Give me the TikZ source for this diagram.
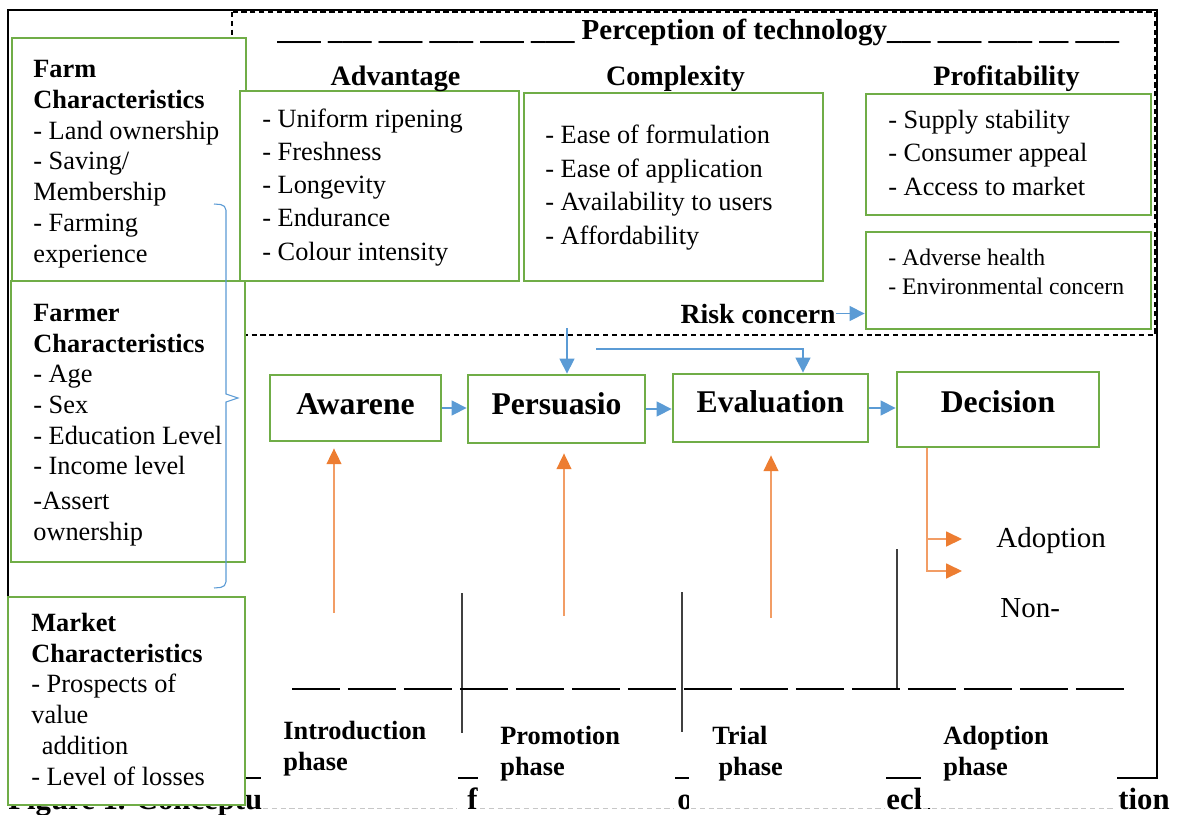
\documentclass[tikz,border=0pt]{standalone}
\usepackage{fontspec}
\setmainfont{Liberation Serif}
\usepackage{tikz}
\usetikzlibrary{arrows.meta, fit}
\definecolor{boxGreen}{HTML}{70AD47}
\definecolor{flowBlue}{HTML}{5B9BD5}
\definecolor{flowOrange}{HTML}{ED7D31}
\definecolor{phaseGray}{HTML}{404040}

\begin{document}
\begin{tikzpicture}[x=0.02cm, y=-0.02cm,
  gbox/.style={draw=boxGreen, line width=1.6pt, fill=white, inner sep=0pt},
  items/.style={anchor=base west, align=left, inner sep=0pt, font=\fontsize{15}{17.5}\selectfont},
  head/.style={anchor=base, inner sep=0pt, font=\fontsize{16}{19}\selectfont\bfseries},
  stage/.style={gbox, font=\fontsize{18}{21}\selectfont\bfseries},
  phase/.style={anchor=base west, align=left, inner sep=0pt, font=\fontsize{15}{17.6}\selectfont\bfseries},
  barrow/.style={flowBlue, line width=0.8pt, -{Triangle[length=8.5pt, width=8.5pt]}},
  oarrow/.style={draw=flowOrange!75, line width=0.8pt, -{Triangle[length=9pt, width=8.5pt, color=flowOrange]}},
  sep/.style={phaseGray, line width=1.1pt}]

  \useasboundingbox (0,0) rectangle (1177,815);
  \draw[line width=1.4pt] (8,10) rectangle (1157,778);
  \draw[densely dashed, line width=0.6pt] (232,12) rectangle (1155,335);

  % caption, mostly hidden
  \node[anchor=base west, inner sep=0pt, font=\fontsize{17.5}{20}\selectfont\bfseries] (capA) at (8,809) {Figure 1. Conceptu};
  \node[anchor=base west, inner sep=0pt, font=\fontsize{17.5}{20}\selectfont\bfseries] (capB) at (467,809) {f};
  \node[anchor=base west, inner sep=0pt, font=\fontsize{17.5}{20}\selectfont\bfseries] (capC) at (677,809) {o};
  \node[anchor=base west, inner sep=0pt, font=\fontsize{17.5}{20}\selectfont\bfseries] (capD) at (886,809) {ech};
  \node[anchor=base west, inner sep=0pt, font=\fontsize{17.5}{20}\selectfont\bfseries] (capE) at (1118,809) {tion};

  \node[gbox, fit={(12,38) (246,281)}] (farm) {};
  \node[gbox, fit={(240,91) (519,281)}] (advan) {};
  \node[gbox, fit={(524,93) (823,281)}] (compl) {};
  \node[gbox, fit={(866,94) (1151,215)}] (profit) {};
  \node[gbox, fit={(866,232) (1151,329)}] (risk) {};
  \node[gbox, fit={(11,281) (245,562)}] (farmer) {};
  \node[gbox, fit={(8,597) (245,805)}] (market) {};

  % anchored at the baseline of the last line
  \node[items] (farmtxt) at (33,262) {\textbf{Farm}\\\textbf{Characteristics}\\- Land ownership\\- Saving/\\Membership\\- Farming\\experience};
  \node[items] (farmertxt) at (33,540) {\textbf{Farmer}\\\textbf{Characteristics}\\- Age\\- Sex\\- Education Level\\- Income level\\[2pt]-Assert\\ownership};
  \node[items] (markettxt) at (31,785) {\textbf{Market}\\\textbf{Characteristics}\\- Prospects of\\value\\\hspace*{6pt}addition\\- Level of losses};

  \node[items, font=\fontsize{15}{18.9}\selectfont] (advantxt) at (262,260) {- Uniform ripening\\- Freshness\\- Longevity\\- Endurance\\- Colour intensity};
  \node[items, font=\fontsize{15}{19}\selectfont] (compltxt) at (545,244) {- Ease of formulation\\- Ease of application\\- Availability to users\\- Affordability};
  \node[items, font=\fontsize{15}{18.8}\selectfont] (profittxt) at (888,195) {- Supply stability\\- Consumer appeal\\- Access to market};
  \node[items, font=\fontsize{13.5}{16}\selectfont] (risktxt) at (888,294) {- Adverse health\\- Environmental concern};

  \node[anchor=base west, inner sep=0pt, font=\fontsize{16.5}{19}\selectfont\bfseries] (percep) at (277,39)
    {\_\_\_ \_\_\_ \_\_\_ \_\_\_ \_\_\_ \_\_\_ Perception of technology\_\_\_ \_\_\_ \_\_\_ \_\_ \_\_\_};
  \node[head] (advanhd) at (395.5,85) {Advantage};
  \node[head] (complhd) at (675.5,85) {Complexity};
  \node[head] (profithd) at (1006.5,85) {Profitability};
  \node[anchor=base east, inner sep=0pt, font=\fontsize{15.8}{19}\selectfont\bfseries] (riskc) at (836,323) {Risk concern};
  \draw[barrow] (riskc.east) -- (riskc.east -| risk.west);

  \node[stage, fit={(270,375) (441,441)}] (aware) {\raisebox{-7.4pt}{Awarene}};
  \node[stage, fit={(468,375) (645,443)}] (persu) {\raisebox{-7pt}{Persuasio}};
  \node[stage, fit={(673,374) (868,442)}] (evalu) {\raisebox{-5.7pt}{Evaluation}};
  \node[stage, fit={(897,372) (1099,447)}] (decis) {\raisebox{-3.1pt}{Decision}};

  \draw[barrow] (aware.east) -- (aware.east -| persu.west);
  \draw[barrow] (persu.east) -- (persu.east -| evalu.west);
  \draw[barrow] (evalu.east) -- (evalu.east -| decis.west);
  \coordinate (riskin) at (567,328);
  \coordinate (riskin2) at (596,349);
  \draw[barrow] (riskin) -- (riskin |- persu.north);
  \draw[barrow] (riskin2) -| ([xshift=0.65cm]evalu.north);

  \draw[flowBlue, line width=0.6pt] (214,204) [rounded corners=3pt] -- (226,205) -- (226,300) [sharp corners] -- (226,394)
    -- (238,398) -- (226,402) -- (226,500) [rounded corners=3pt] -- (226,587) -- (214,588);

  \draw[sep] (462,593) -- (462,733);
  \draw[sep] (682,592) -- (682,732);
  \draw[sep] (897,549) -- (897,689);
  \draw[line width=0.9pt, dash pattern=on 0.96cm off 0.16cm] (292,689) -- (1124,689);

  \coordinate (upA) at (334,613);
  \coordinate (upB) at (564,616);
  \coordinate (upC) at (771,618);
  \draw[oarrow, shorten >=0.12cm] (upA) -- (upA |- aware.south);
  \draw[oarrow, shorten >=0.18cm] (upB) -- (upB |- persu.south);
  \draw[oarrow, shorten >=0.24cm] (upC) -- (upC |- evalu.south);
  \coordinate (yes) at (962,539);
  \coordinate (no) at (962,571);
  \draw[oarrow] ([xshift=-1.42cm]decis.south) |- (yes);
  \draw[oarrow] ([xshift=-1.42cm]decis.south) |- (no);
  \node[anchor=base west, inner sep=0pt, font=\fontsize{16.5}{19}\selectfont] (adopt) at (996,547) {Adoption};
  \node[anchor=base west, inner sep=0pt, font=\fontsize{16.5}{19}\selectfont] (nonadopt) at (1000,617) {Non-};

  \fill[white] (261,705) rectangle (458,808);
  \fill[white] (478,705) rectangle (675,808);
  \fill[white] (689,705) rectangle (886,808);
  \fill[white] (921,705) rectangle (1117,808);
  \draw[black!22, densely dashed] (263,808) -- (457,808) (480,808) -- (674,808) (691,808) -- (885,808) (923,808) -- (1116,808);

  \node[phase] (intro) at (283,770) {Introduction\\phase};
  \node[phase] (promo) at (500,775) {Promotion\\phase};
  \node[phase] (trial) at (712,775) {Trial\\\hspace*{3.5pt}phase};
  \node[phase] (adoptph) at (943,775) {Adoption\\phase};

\end{tikzpicture}
\end{document}
